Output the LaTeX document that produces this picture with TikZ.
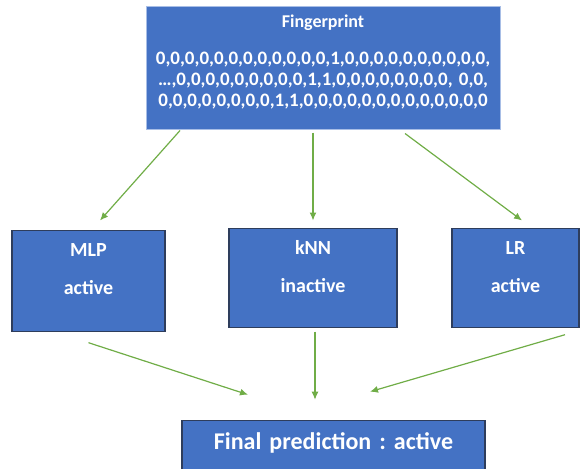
\documentclass[tikz,border=0pt]{standalone}
\usepackage{fontspec}
\setmainfont{Carlito}
\usetikzlibrary{positioning}
\usetikzlibrary{arrows.meta}
\usepackage{color}
\frenchspacing

\definecolor{boxblue}{HTML}{4472C4}
\definecolor{linkgreen}{HTML}{70AD47}
\definecolor{darkrim}{HTML}{2E3D5C}
\definecolor{palerim}{HTML}{A8BEE6}

\tikzset{
  fpbox/.style={fill=boxblue, draw=palerim, line width=1pt, text=white,
    font=\bfseries\fontsize{19}{21}\selectfont, inner sep=0pt, align=center,
    text width=354pt, text height=21pt, text depth=101pt},
  model/.style={fill=boxblue, draw=darkrim, line width=1.2pt, text=white,
    font=\bfseries\fontsize{20}{38}\selectfont, inner sep=0pt, align=center,
    text height=26pt},
  verdict/.style={fill=boxblue, draw=darkrim, line width=1.2pt, text=white,
    font=\bfseries\fontsize{24}{28}\selectfont, inner sep=0pt, align=center,
    text width=303pt, text height=29pt, text depth=31pt},
  link/.style={draw=linkgreen, line width=1.2pt, -{Latex[length=8pt, width=7pt]}},
}

\begin{document}
\begin{tikzpicture}[x=1pt, y=1pt]

  \useasboundingbox (0,0) rectangle (580,-468);

  % Define nodes
  \node[fpbox] (fp) at (323,-68) {{\fontsize{18}{18}\selectfont Fingerprint}\\[16pt]
    0,0,0,0,0,0,0,0,0,0,0,0,1,0,0,0,0,0,0,0,0,0,0,\\
    …,0,0,0,0,0,0,0,0,0,1,1,0,0,0,0,0,0,0,0, 0,0,\\
    0,0,0,0,0,0,0,0,1,1,0,0,0,0,0,0,0,0,0,0,0,0,0};
  \node[model, below=100pt of fp, xshift=-234.5pt, text width=153pt, text depth=75pt] (mlp) {MLP\\active};
  \node[model, below=98pt of fp, xshift=-10pt, text width=168pt, text depth=73pt] (knn) {kNN\\inactive};
  \node[model, below=98pt of fp, xshift=192.5pt, text width=127pt, text depth=73pt] (lr) {LR\\active};
  \node[verdict, below=92pt of knn, xshift=20.5pt] (final) {Final prediction : active};

  % Connect the nodes
  \draw[link] ([xshift=-143pt, yshift=-1pt]fp.south) -- ([xshift=11.5pt, yshift=9pt]mlp.north) ; %
  \draw[link] ([xshift=-10pt, yshift=-3pt]fp.south) -- ([yshift=7pt]knn.north) ; %
  \draw[link] ([xshift=82pt, yshift=-4pt]fp.south) -- ([xshift=6.5pt, yshift=7pt]lr.north) ; %
  \draw[link] ([yshift=-11pt]mlp.south) -- ([xshift=-85.5pt, yshift=25pt]final.north) ; %
  \draw[link] ([xshift=2pt, yshift=-4pt]knn.south) -- ([xshift=-18.5pt, yshift=20pt]final.north) ; %
  \draw[link] ([xshift=49.5pt, yshift=-7pt]lr.south) -- ([xshift=36.5pt, yshift=28pt]final.north) ; %

\end{tikzpicture}
\end{document}
